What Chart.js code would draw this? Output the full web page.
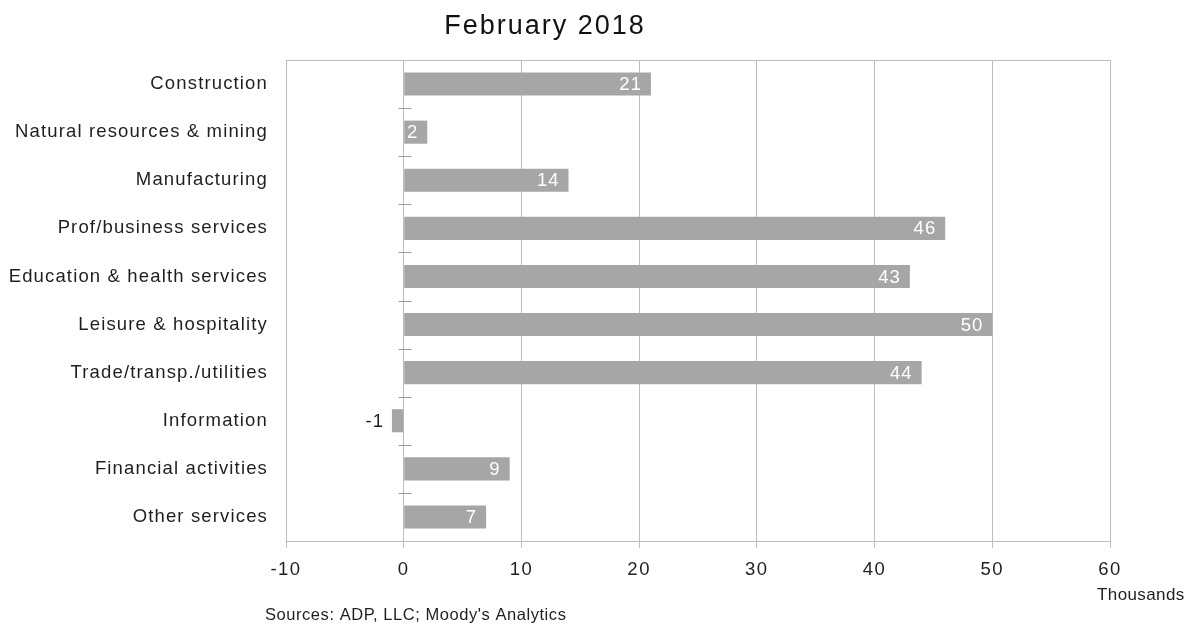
<!DOCTYPE html>
<html>
<head>
<meta charset="utf-8">
<script src="https://cdn.jsdelivr.net/npm/chart.js@4/dist/chart.umd.min.js"></script>
<style>
  html, body { margin: 0; padding: 0; background: #ffffff; }
  #wrap { width: 1196px; height: 624px; }
</style>
</head>
<body>
<div id="wrap"><canvas id="chart" width="1196" height="624"></canvas></div>
<script>
// Private payroll change by industry, thousands of jobs
const industries = [
  'Construction',
  'Natural resources & mining',
  'Manufacturing',
  'Prof/business services',
  'Education & health services',
  'Leisure & hospitality',
  'Trade/transp./utilities',
  'Information',
  'Financial activities',
  'Other services'
];
const jobChange = [21, 2, 14, 46, 43, 50, 44, -1, 9, 7];
const xTicks = [-10, 0, 10, 20, 30, 40, 50, 60];

const chartTitle = 'February 2018';
const unitNote = 'Thousands';
const sourceNote = "Sources: ADP, LLC; Moody's Analytics";

const FONT = '"Liberation Sans", Arial, sans-serif';
const BAR = '#a6a6a6';
const GRID = '#bdbdbd';
const INK = '#1f1f1f';

// Wrap a scale's label drawing so its text gets extra tracking
function trackLabels(scale, spacing) {
  const base = Object.getPrototypeOf(scale).drawLabels;
  scale.drawLabels = function (area) {
    const ctx = this.ctx;
    ctx.save();
    ctx.letterSpacing = spacing;
    base.call(this, area);
    ctx.restore();
  };
}

const decorations = {
  id: 'decorations',
  afterLayout(chart) {
    trackLabels(chart.scales.y, '1.15px');
    trackLabels(chart.scales.x, '1.5px');
  },
  beforeDraw(chart) {
    const ctx = chart.ctx;
    ctx.save();
    ctx.fillStyle = '#ffffff';
    ctx.fillRect(0, 0, chart.width, chart.height);
    ctx.restore();
  },
  afterDatasetsDraw(chart) {
    const ctx = chart.ctx;
    const meta = chart.getDatasetMeta(0);
    const values = chart.data.datasets[0].data;
    ctx.save();
    ctx.font = '18.5px ' + FONT;
    ctx.letterSpacing = '1px';
    ctx.textAlign = 'right';
    ctx.textBaseline = 'middle';
    meta.data.forEach((bar, i) => {
      const v = values[i];
      const label = String(v);
      if (v >= 0) {
        ctx.fillStyle = '#ffffff';
        ctx.fillText(label, bar.x - 9, bar.y + 1);
      } else {
        ctx.fillStyle = INK;
        ctx.fillText(label, bar.x - 8, bar.y + 1);
      }
    });
    ctx.restore();
  },
  afterDraw(chart) {
    const ctx = chart.ctx;
    const area = chart.chartArea;
    const xs = chart.scales.x;
    const ys = chart.scales.y;
    ctx.save();
    // frame top edge
    ctx.strokeStyle = GRID;
    ctx.lineWidth = 1;
    ctx.beginPath();
    ctx.moveTo(area.left, Math.round(area.top) + 0.5);
    ctx.lineTo(area.right, Math.round(area.top) + 0.5);
    ctx.stroke();
    // category separators on the zero line
    const x0 = Math.round(xs.getPixelForValue(0)) + 0.5;
    ctx.strokeStyle = '#9a9a9a';
    ctx.beginPath();
    for (let i = 1; i < industries.length; i++) {
      const y = Math.round((ys.getPixelForValue(i - 1) + ys.getPixelForValue(i)) / 2) + 0.5;
      ctx.moveTo(x0 - 6, y);
      ctx.lineTo(x0 + 7, y);
    }
    ctx.stroke();
    // title and notes
    ctx.fillStyle = '#111111';
    ctx.textBaseline = 'alphabetic';
    ctx.textAlign = 'center';
    ctx.font = '27px ' + FONT;
    ctx.letterSpacing = '2px';
    ctx.fillText(chartTitle, 545, 34);
    ctx.textAlign = 'left';
    ctx.font = '17px ' + FONT;
    ctx.letterSpacing = '0.4px';
    ctx.fillStyle = INK;
    ctx.fillText(unitNote, 1097, 600);
    ctx.font = '16.5px ' + FONT;
    ctx.letterSpacing = '0.55px';
    ctx.fillText(sourceNote, 265, 620);
    ctx.restore();
  }
};

new Chart(document.getElementById('chart'), {
  type: 'bar',
  data: {
    labels: industries,
    datasets: [{
      data: jobChange,
      backgroundColor: BAR,
      borderWidth: 0,
      barPercentage: 0.48,
      categoryPercentage: 1
    }]
  },
  options: {
    indexAxis: 'y',
    responsive: false,
    animation: false,
    events: [],
    layout: { padding: { top: 60, right: 86, bottom: 0, left: 0 } },
    plugins: {
      legend: { display: false },
      title: { display: false },
      tooltip: { enabled: false }
    },
    scales: {
      x: {
        type: 'linear',
        min: xTicks[0],
        max: xTicks[xTicks.length - 1],
        afterBuildTicks(scale) {
          scale.ticks = xTicks.map(v => ({ value: v }));
        },
        afterFit(scale) { scale.height = 83; },
        grid: { color: GRID, tickLength: 7, lineWidth: 1 },
        border: { display: true, color: GRID },
        ticks: {
          color: INK,
          padding: 11,
          font: { family: FONT, size: 18.5 },
          callback: v => String(v)
        }
      },
      y: {
        type: 'category',
        afterFit(scale) { scale.width = 286; },
        grid: { display: false },
        border: { display: true, color: GRID },
        ticks: {
          color: INK,
          padding: 10,
          autoSkip: false,
          font: { family: FONT, size: 18.5 }
        }
      }
    }
  },
  plugins: [decorations]
});
</script>
</body>
</html>
